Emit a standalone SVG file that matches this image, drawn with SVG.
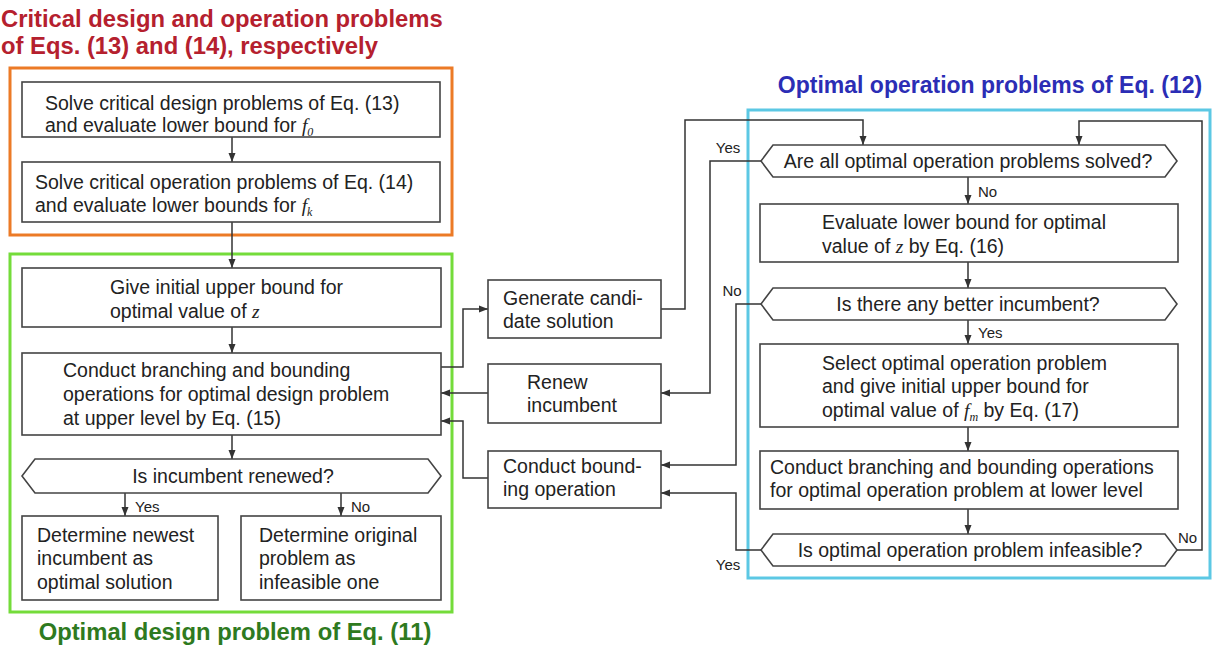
<svg xmlns="http://www.w3.org/2000/svg" width="1213" height="645" viewBox="0 0 1213 645">
  <style>
    .frame { fill: none; stroke-width: 3; }
    .box { fill: #fff; stroke: #444; stroke-width: 1.6; }
    .t { font-family: "Liberation Sans", Arial, sans-serif; font-size: 19.5px; fill: #222; }
    .lbl { font-family: "Liberation Sans", Arial, sans-serif; font-size: 15px; fill: #222; }
    .title { font-family: "Liberation Sans", Arial, sans-serif; font-size: 23px; font-weight: bold; }
    .big { font-size: 23.8px; }
    .m { font-family: "Liberation Serif", "Times New Roman", serif; font-style: italic; }
    .sub { font-family: "Liberation Serif", "Times New Roman", serif; font-style: italic; font-size: 12px; }
    .c { text-anchor: middle; }
    .wire { fill: none; stroke: #333; stroke-width: 1.5; }
  </style>
  <defs>
    <marker id="ah" markerUnits="userSpaceOnUse" markerWidth="10" markerHeight="8" refX="9" refY="4" orient="auto">
      <path d="M0,0.5 L9,4 L0,7.5 z" fill="#333"/>
    </marker>
  </defs>

  <rect width="1213" height="645" fill="#fff"/>

  <!-- group frames and their headings -->
  <g id="critical-group">
    <text class="title big" x="1" fill="#b5202e"><tspan x="1" y="27">Critical design and operation problems</tspan><tspan x="1" y="54">of Eqs. (13) and (14), respectively</tspan></text>
    <rect class="frame" x="10" y="68" width="442" height="167" stroke="#ec7a26"/>
  </g>
  <g id="design-group">
    <rect class="frame" x="10" y="254" width="442" height="358" stroke="#74dc3a"/>
    <text class="title big c" x="235" y="640" fill="#2e7a20">Optimal design problem of Eq. (11)</text>
  </g>
  <g id="operation-group">
    <text class="title c" x="990" y="93" fill="#2b2db5">Optimal operation problems of Eq. (12)</text>
    <rect class="frame" x="748" y="110" width="462" height="468" stroke="#5cc8e4"/>
  </g>

  <!-- connectors -->
  <g id="connectors">
    <path class="wire" d="M232,137 V162" marker-end="url(#ah)"/>
    <path class="wire" d="M232,222 V268" marker-end="url(#ah)"/>
    <path class="wire" d="M232,327 V353" marker-end="url(#ah)"/>
    <path class="wire" d="M232,435 V459" marker-end="url(#ah)"/>
    <path class="wire" d="M125,493 V516" marker-end="url(#ah)"/>
    <path class="wire" d="M341,493 V516" marker-end="url(#ah)"/>
    <path class="wire" d="M441,367 H463 V309 H488" marker-end="url(#ah)"/>
    <path class="wire" d="M661,309 H685 V120 H863 V145" marker-end="url(#ah)"/>
    <path class="wire" d="M761,161 H710 V393 H661" marker-end="url(#ah)"/>
    <path class="wire" d="M488,393 H441" marker-end="url(#ah)"/>
    <path class="wire" d="M761,304 H736 V465 H661" marker-end="url(#ah)"/>
    <path class="wire" d="M761,550 H736 V493 H661" marker-end="url(#ah)"/>
    <path class="wire" d="M488,478 H463 V421 H441" marker-end="url(#ah)"/>
    <path class="wire" d="M968,177 V204" marker-end="url(#ah)"/>
    <path class="wire" d="M968,262 V288" marker-end="url(#ah)"/>
    <path class="wire" d="M968,320 V344" marker-end="url(#ah)"/>
    <path class="wire" d="M968,427 V451" marker-end="url(#ah)"/>
    <path class="wire" d="M968,509 V534" marker-end="url(#ah)"/>
    <path class="wire" d="M1177,550 H1202 V121 H1079 V145" marker-end="url(#ah)"/>
    <text class="lbl" x="135" y="512">Yes</text>
    <text class="lbl" x="351" y="512">No</text>
    <text class="lbl c" x="728" y="153">Yes</text>
    <text class="lbl c" x="732" y="296">No</text>
    <text class="lbl c" x="728" y="570">Yes</text>
    <text class="lbl" x="978" y="197">No</text>
    <text class="lbl" x="978" y="338">Yes</text>
    <text class="lbl" x="1178" y="543">No</text>
  </g>

  <!-- upper-level (design) nodes -->
  <g id="n-critical-design">
    <rect class="box" x="22" y="82" width="418" height="55"/>
    <text class="t" x="45" y="110">Solve critical design problems of Eq. (13)</text>
    <text class="t" x="45" y="132">and evaluate lower bound for <tspan class="m">f</tspan><tspan class="sub" dy="4" font-style="normal">0</tspan></text>
  </g>
  <g id="n-critical-operation">
    <rect class="box" x="22" y="162" width="418" height="60"/>
    <text class="t" x="35" y="189">Solve critical operation problems of Eq. (14)</text>
    <text class="t" x="35" y="212">and evaluate lower bounds for <tspan class="m">f</tspan><tspan class="sub" dy="4">k</tspan></text>
  </g>
  <g id="n-initial-upper">
    <rect class="box" x="22" y="268" width="419" height="59"/>
    <text class="t" x="110" y="294">Give initial upper bound for</text>
    <text class="t" x="110" y="318">optimal value of <tspan class="m">z</tspan></text>
  </g>
  <g id="n-upper-branching">
    <rect class="box" x="22" y="353" width="419" height="82"/>
    <text class="t" x="63" y="377">Conduct branching and bounding</text>
    <text class="t" x="63" y="401">operations for optimal design problem</text>
    <text class="t" x="63" y="425">at upper level by Eq. (15)</text>
  </g>
  <g id="d-incumbent-renewed">
    <polygon class="box" points="35,459 428,459 441,476 428,493 35,493 22,476"/>
    <text class="t c" x="233" y="483">Is incumbent renewed?</text>
  </g>
  <g id="n-optimal-solution">
    <rect class="box" x="22" y="516" width="196" height="84"/>
    <text class="t" x="37" y="542">Determine newest</text>
    <text class="t" x="37" y="565">incumbent as</text>
    <text class="t" x="37" y="589">optimal solution</text>
  </g>
  <g id="n-infeasible">
    <rect class="box" x="241" y="516" width="200" height="84"/>
    <text class="t" x="259" y="542">Determine original</text>
    <text class="t" x="259" y="565">problem as</text>
    <text class="t" x="259" y="589">infeasible one</text>
  </g>

  <!-- exchange nodes between levels -->
  <g id="n-candidate">
    <rect class="box" x="488" y="280" width="173" height="58"/>
    <text class="t" x="503" y="305">Generate candi-</text>
    <text class="t" x="503" y="328">date solution</text>
  </g>
  <g id="n-renew">
    <rect class="box" x="488" y="364" width="173" height="59"/>
    <text class="t" x="527" y="389">Renew</text>
    <text class="t" x="527" y="412">incumbent</text>
  </g>
  <g id="n-bounding">
    <rect class="box" x="488" y="451" width="173" height="57"/>
    <text class="t" x="503" y="473">Conduct bound-</text>
    <text class="t" x="503" y="496">ing operation</text>
  </g>

  <!-- lower-level (operation) nodes -->
  <g id="d-all-solved">
    <polygon class="box" points="773,145 1165,145 1177,161 1165,177 773,177 761,161"/>
    <text class="t c" x="968" y="168">Are all optimal operation problems solved?</text>
  </g>
  <g id="n-lower-bound">
    <rect class="box" x="760" y="204" width="418" height="58"/>
    <text class="t" x="822" y="229">Evaluate lower bound for optimal</text>
    <text class="t" x="822" y="253">value of <tspan class="m">z</tspan> by Eq. (16)</text>
  </g>
  <g id="d-better-incumbent">
    <polygon class="box" points="773,288 1165,288 1177,304 1165,320 773,320 761,304"/>
    <text class="t c" x="968" y="311">Is there any better incumbent?</text>
  </g>
  <g id="n-select-problem">
    <rect class="box" x="760" y="344" width="418" height="83"/>
    <text class="t" x="822" y="370">Select optimal operation problem</text>
    <text class="t" x="822" y="393">and give initial upper bound for</text>
    <text class="t" x="822" y="417">optimal value of <tspan class="m">f</tspan><tspan class="sub" dy="4">m</tspan><tspan dy="-4"> by Eq. (17)</tspan></text>
  </g>
  <g id="n-lower-branching">
    <rect class="box" x="760" y="451" width="418" height="58"/>
    <text class="t" x="770" y="474">Conduct branching and bounding operations</text>
    <text class="t" x="770" y="497">for optimal operation problem at lower level</text>
  </g>
  <g id="d-infeasible">
    <polygon class="box" points="773,534 1165,534 1177,550 1165,566 773,566 761,550"/>
    <text class="t c" x="970" y="557">Is optimal operation problem infeasible?</text>
  </g>
</svg>
